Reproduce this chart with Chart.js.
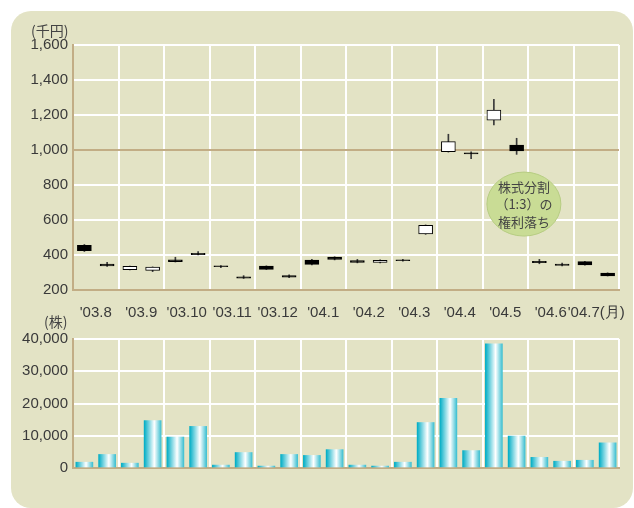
<!DOCTYPE html>
<html lang="ja">
<head>
<meta charset="utf-8">
<script src="https://cdn.jsdelivr.net/npm/chart.js@4.4.1/dist/chart.umd.min.js"></script>
<style>
  body { margin: 0; width: 634px; height: 508px; background: #fff; position: relative; overflow: hidden; }
  #panel { position: absolute; left: 11px; top: 11px; width: 622px; height: 497px; background: #e3e3c5; border-radius: 20px; }
  .box { position: absolute; left: 0; width: 634px; }
  #priceBox { top: 0; height: 325px; }
  #volBox { top: 325px; height: 183px; }
  .unit { position: absolute; font: 14px "Noto Sans CJK JP", sans-serif; color: #444; line-height: 16px; }
</style>
</head>
<body>
<div id="panel"></div>
<div class="box" id="priceBox"><canvas id="priceChart"></canvas></div>
<div class="box" id="volBox"><canvas id="volumeChart"></canvas></div>
<div class="unit" style="left:31px; top:22px;">(千円)</div>
<div class="unit" style="left:44px; top:313px;">(株)</div>
<script>
// 月ラベル（1か月に2本ずつ：上旬・下旬）
const months = ["'03.8", "'03.9", "'03.10", "'03.11", "'03.12", "'04.1", "'04.2", "'04.3", "'04.4", "'04.5", "'04.6", "'04.7"];
const monthSuffix = '(月)';

// 株価（千円）
const openPrices  = [455, 348, 316, 312, 372, 410, 338, 275, 337, 282, 371, 388, 368, 357, 372, 520, 990, 984, 1170, 1028, 364, 348, 362, 297];
const closePrices = [425, 337, 335, 331, 362, 402, 334, 268, 318, 273, 346, 375, 358, 370, 368, 570, 1048, 978, 1228, 995, 356, 340, 343, 281];
const highPrices  = [460, 358, 336, 332, 387, 419, 340, 282, 338, 287, 375, 390, 375, 372, 375, 572, 1090, 990, 1290, 1067, 375, 354, 364, 298];
const lowPrices   = [420, 335, 315, 305, 360, 400, 328, 266, 317, 270, 343, 372, 355, 355, 365, 518, 988, 950, 1143, 975, 350, 338, 342, 280];

// 出来高（株）
const volumes = [1800, 4200, 1500, 14700, 9600, 12900, 900, 4800, 600, 4200, 3900, 5700, 900, 600, 1800, 14100, 21600, 5400, 38500, 9900, 3300, 2100, 2400, 7800];

const priceTicks = [200, 400, 600, 800, 1000, 1200, 1400, 1600];
const volumeTicks = [0, 10000, 20000, 30000, 40000];
const calloutLines = ['株式分割', '（1:3）の', '権利落ち'];

const TAN = '#c2ad85';
const slots = months.length * 2;
const xTicks = Array.from({ length: slots + 1 }, (_, i) => i);

Chart.defaults.font.family = '"Liberation Sans", Arial, sans-serif';
Chart.defaults.color = '#3a3a3a';
Chart.defaults.animation = false;

function xScale(showLabels) {
    return {
        type: 'linear',
        min: 0,
        max: slots,
        offset: false,
        afterBuildTicks: s => { s.ticks = xTicks.map(v => ({ value: v })); },
        afterFit: s => { s.height = showLabels ? 35 : 40; },
        border: { color: TAN, width: 2 },
        grid: {
            offset: false,
            drawTicks: false,
            lineWidth: 2,
            color: c => (c.tick && c.tick.value % 2 === 0) ? '#ffffff' : 'rgba(0,0,0,0)'
        },
        ticks: {
            display: showLabels,
            autoSkip: false,
            maxRotation: 0,
            padding: 14,
            font: { size: 15 },
            callback: v => {
                if (v % 2 !== 1) return '';
                const i = (v - 1) / 2;
                return i === months.length - 1 ? months[i] + monthSuffix : months[i];
            }
        }
    };
}

function yScale(min, max, ticks, specialValue) {
    return {
        min: min,
        max: max,
        afterBuildTicks: s => { s.ticks = ticks.map(v => ({ value: v })); },
        afterFit: s => { s.width = 73; },
        border: { color: TAN, width: 2 },
        grid: {
            drawTicks: false,
            lineWidth: 2,
            color: c => (c.tick && c.tick.value === specialValue) ? TAN : '#ffffff'
        },
        ticks: {
            padding: 5,
            font: { size: 15 },
            callback: v => Number(v).toLocaleString('en-US')
        }
    };
}

// 吹き出し（株式分割の注記）
const calloutPlugin = {
    id: 'callout',
    afterDatasetsDraw(chart) {
        const { ctx, scales } = chart;
        const cx = scales.x.getPixelForValue(19.82);
        const cy = scales.y.getPixelForValue(691);
        ctx.save();
        ctx.beginPath();
        ctx.ellipse(cx, cy, 37, 32, 0, 0, Math.PI * 2);
        ctx.fillStyle = '#c9dc95';
        ctx.fill();
        ctx.strokeStyle = '#b6cc82';
        ctx.lineWidth = 1;
        ctx.stroke();
        ctx.fillStyle = '#444';
        ctx.font = '13px "Noto Sans CJK JP", sans-serif';
        ctx.textAlign = 'center';
        ctx.textBaseline = 'middle';
        calloutLines.forEach((t, i) => ctx.fillText(t, cx, cy + (i - 1) * 17.5));
        ctx.restore();
    }
};

// 株価チャート（ローソク足）
const bodies = openPrices.map((o, i) => ({ x: i + 0.5, y: [o, closePrices[i]] }));
const wicks = lowPrices.map((l, i) => ({ x: i + 0.5, y: [l, highPrices[i]] }));

new Chart(document.getElementById('priceChart'), {
    type: 'bar',
    data: {
        datasets: [{
            label: 'body',
            data: bodies,
            grouped: false,
            barThickness: 14,
            backgroundColor: openPrices.map((o, i) => closePrices[i] >= o ? '#ffffff' : '#000000'),
            borderColor: '#000000',
            borderWidth: 1,
            borderSkipped: false
        }, {
            label: 'wick',
            data: wicks,
            grouped: false,
            barThickness: 1,
            backgroundColor: '#3a3a3a',
            borderWidth: 0
        }]
    },
    options: {
        responsive: true,
        maintainAspectRatio: false,
        events: [],
        layout: { padding: { top: 45, right: 15, left: 0, bottom: 0 } },
        plugins: { legend: { display: false }, tooltip: { enabled: false } },
        scales: {
            x: xScale(true),
            y: yScale(200, 1600, priceTicks, 1000)
        }
    },
    plugins: [calloutPlugin]
});

// 出来高チャート
function volumeGradient(c) {
    const chart = c.chart;
    if (!chart.chartArea || c.dataIndex === undefined) return '#2fb9cc';
    const cx = chart.scales.x.getPixelForValue(c.dataIndex + 0.5);
    const g = chart.ctx.createLinearGradient(cx - 8.5, 0, cx + 8.5, 0);
    g.addColorStop(0, '#00adc5');
    g.addColorStop(0.6, '#ffffff');
    g.addColorStop(1, '#3cbfd1');
    return g;
}

new Chart(document.getElementById('volumeChart'), {
    type: 'bar',
    data: {
        datasets: [{
            label: '出来高',
            data: volumes.map((v, i) => ({ x: i + 0.5, y: v })),
            barThickness: 17,
            backgroundColor: volumeGradient,
            borderWidth: 0
        }]
    },
    options: {
        responsive: true,
        maintainAspectRatio: false,
        events: [],
        layout: { padding: { top: 10, right: 15, left: 0, bottom: 0 } },
        plugins: { legend: { display: false }, tooltip: { enabled: false } },
        scales: {
            x: xScale(false),
            y: yScale(0, 40000, volumeTicks, null)
        }
    }
});
</script>
</body>
</html>
